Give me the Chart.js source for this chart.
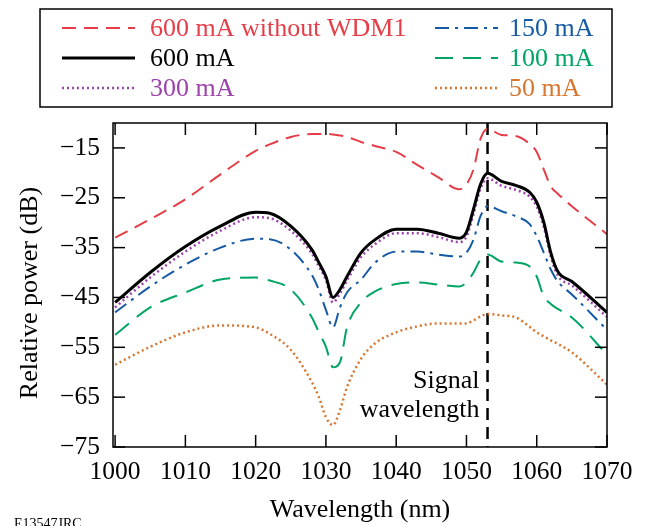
<!DOCTYPE html>
<html>
<head>
<meta charset="utf-8">
<script src="https://cdn.jsdelivr.net/npm/chart.js@4.4.1/dist/chart.umd.min.js"></script>
<style>
  html, body { margin: 0; padding: 0; background: #fff; }
  #myChart { display: block; }
</style>
</head>
<body>
<canvas id="myChart" width="649" height="526"></canvas>
<script>
// wavelength samples (nm) shared by all curves
const wavelengths = [1000, 1005, 1010, 1015, 1020, 1022, 1025, 1028, 1029, 1030, 1031, 1032, 1033, 1035, 1037,
                     1040, 1043, 1046, 1049, 1050, 1051, 1052, 1053, 1055, 1057, 1059, 1060, 1061, 1062, 1063, 1065, 1070];

// relative power (dB) per pump current
const noWdm600 = [-33, -29.3, -25.3, -20.3, -15.6, -14.3, -12.8, -12.2, -12.2, -12.2, -12.3, -12.5, -12.8, -13.8, -14.6,
                  -15.8, -18.4, -20.9, -23.3, -22.3, -19.3, -13.2, -11.2, -12.4, -12.6, -14.2, -15.8, -19.3, -22.7, -24.2, -26.7, -32.3];
const ma600 = [-46, -40, -34.8, -30.7, -27.9, -28.1, -30.7, -35.4, -38, -40.8, -45, -43.4, -40.8, -36, -33.4,
               -31.3, -31.3, -32.1, -33.1, -31.9, -27.3, -22.3, -20.1, -21.7, -22.5, -23.9, -25.9, -29.9, -36, -39.8, -41.8, -48];
const ma300 = [-47, -41, -35.8, -31.6, -28.9, -29.1, -31.6, -36.2, -38.8, -41.5, -46, -44.2, -41.6, -36.9, -34.3,
               -32.1, -32.1, -32.9, -33.9, -32.8, -28.3, -23.2, -21.1, -22.6, -23.4, -24.8, -26.8, -30.8, -36.8, -40.6, -42.6, -48.9];
const ma150 = [-48, -42.8, -38.4, -35, -33.2, -33.3, -35.4, -40.5, -43.5, -47.5, -51, -47, -44, -41.4, -38,
               -35.8, -35.8, -36.4, -36.8, -36, -33.4, -28.7, -26.7, -27.7, -28.7, -30.3, -32.7, -36, -39.4, -41.8, -44.4, -51.5];
const ma100 = [-52.5, -47, -44, -41.4, -41, -41.6, -43.4, -49, -52, -54.9, -59, -58, -51, -46, -43.8,
               -42.3, -42, -42.4, -42.8, -42, -40, -37.4, -36.4, -37.8, -38, -38.8, -40.8, -44.8, -46.3, -47.3, -49, -56.5];
const ma50 = [-58.5, -54.9, -52, -50.6, -51, -52.3, -55.5, -62, -65, -69, -70.6, -67.6, -63, -57.3, -54.2,
              -52, -50.8, -50.2, -50.2, -50.2, -49.6, -48.8, -48.3, -48.6, -49, -50.9, -52, -52.8, -53.6, -54.3, -56, -62.5];

const signalWavelength = 1053;
const xTicks = [1000, 1010, 1020, 1030, 1040, 1050, 1060, 1070];
const yTicks = [-75, -65, -55, -45, -35, -25, -15];

const FONT = "'Liberation Serif', 'DejaVu Serif', serif";

function pts(ys) {
    return wavelengths.map((w, i) => ({ x: w, y: ys[i] }));
}

const series = [
    { label: '600 mA without WDM1', data: noWdm600, color: 'rgb(230, 62, 72)', dash: [14, 8], width: 2 },
    { label: '600 mA', data: ma600, color: '#000000', dash: [], width: 3 },
    { label: '300 mA', data: ma300, color: 'rgb(155, 68, 170)', dash: [2, 3], width: 2.5 },
    { label: '150 mA', data: ma150, color: 'rgb(22, 90, 165)', dash: [14, 6, 3, 6], width: 2 },
    { label: '100 mA', data: ma100, color: 'rgb(0, 165, 100)', dash: [18, 10], width: 2 },
    { label: '50 mA', data: ma50, color: 'rgb(214, 118, 48)', dash: [2, 3], width: 2.5 }
];

const datasets = series.map(s => ({
    label: s.label,
    data: pts(s.data),
    borderColor: s.color,
    borderDash: s.dash,
    borderWidth: s.width,
    pointRadius: 0,
    fill: false,
    cubicInterpolationMode: 'monotone'
}));

// vertical marker at the signal wavelength
datasets.push({
    label: 'signal',
    data: [{ x: signalWavelength, y: -10 }, { x: signalWavelength, y: -75 }],
    borderColor: '#000',
    borderDash: [12, 7],
    borderWidth: 2.5,
    pointRadius: 0,
    fill: false
});

function line(ctx, x1, y1, x2, y2) {
    ctx.beginPath();
    ctx.moveTo(x1, y1);
    ctx.lineTo(x2, y2);
    ctx.stroke();
}

// frame, inward ticks, legend box, axis titles, annotation
const decorations = {
    id: 'decorations',
    afterDraw(chart) {
        const ctx = chart.ctx;
        const a = chart.chartArea;
        const xs = chart.scales.x, ys = chart.scales.y;
        ctx.save();
        ctx.strokeStyle = '#000';
        ctx.lineWidth = 1.5;
        ctx.setLineDash([]);
        ctx.strokeRect(a.left, a.top, a.right - a.left, a.bottom - a.top);

        xTicks.forEach(v => {
            const px = xs.getPixelForValue(v);
            line(ctx, px, a.bottom, px, a.bottom - 12);
            line(ctx, px, a.top, px, a.top + 12);
        });
        yTicks.forEach(v => {
            const py = ys.getPixelForValue(v);
            line(ctx, a.left, py, a.left + 12, py);
            line(ctx, a.right, py, a.right - 12, py);
        });

        // signal label
        ctx.fillStyle = '#000';
        ctx.font = '26px ' + FONT;
        ctx.textAlign = 'right';
        ctx.textBaseline = 'middle';
        const sx = xs.getPixelForValue(signalWavelength) - 8;
        ctx.fillText('Signal', sx, 381);
        ctx.fillText('wavelength', sx, 410);

        // axis titles
        ctx.textAlign = 'center';
        ctx.fillText('Wavelength (nm)', 360, 510);
        ctx.save();
        ctx.translate(30, 293);
        ctx.rotate(-Math.PI / 2);
        ctx.fillText('Relative power (dB)', 0, 0);
        ctx.restore();

        // figure id
        ctx.font = '14px ' + FONT;
        ctx.textAlign = 'left';
        ctx.textBaseline = 'top';
        ctx.fillText('E13547JRC', 14, 517);

        // legend
        ctx.lineWidth = 1.5;
        ctx.strokeRect(40, 9, 572, 98);
        ctx.font = '26px ' + FONT;
        ctx.textBaseline = 'middle';
        const rows = [28, 58, 88];
        const cols = [{ x1: 62, x2: 135, tx: 150 }, { x1: 435, x2: 498, tx: 509 }];
        series.forEach((s, k) => {
            const c = cols[k < 3 ? 0 : 1];
            const y = rows[k % 3];
            ctx.strokeStyle = s.color;
            ctx.lineWidth = s.width;
            ctx.setLineDash(s.dash);
            line(ctx, c.x1, y, c.x2, y);
            ctx.setLineDash([]);
            ctx.fillStyle = s.color;
            ctx.fillText(s.label, c.tx, y + 1);
        });
        ctx.restore();
    }
};

const config = {
    type: 'line',
    data: { datasets: datasets },
    options: {
        responsive: false,
        animation: false,
        devicePixelRatio: 1,
        layout: { padding: { left: 0, top: 123, right: 42, bottom: 0 } },
        plugins: {
            legend: { display: false },
            tooltip: { enabled: false },
            title: { display: false }
        },
        scales: {
            x: {
                type: 'linear',
                min: 999.7,
                max: 1070,
                afterBuildTicks: (scale) => { scale.ticks = xTicks.map(v => ({ value: v })); },
                afterFit: (scale) => { scale.height = 79; },
                grid: { display: false, drawTicks: false },
                border: { display: false },
                ticks: {
                    color: '#000',
                    padding: 10,
                    maxRotation: 0,
                    autoSkip: false,
                    font: { family: FONT, size: 25.5 },
                    callback: (v) => String(v)
                }
            },
            y: {
                type: 'linear',
                min: -75,
                max: -10,
                afterBuildTicks: (scale) => { scale.ticks = yTicks.map(v => ({ value: v })); },
                afterFit: (scale) => { scale.width = 113; },
                grid: { display: false, drawTicks: false },
                border: { display: false },
                ticks: {
                    color: '#000',
                    padding: 13,
                    font: { family: FONT, size: 25.5 },
                    callback: (v) => String(v).replace('-', '\u2212')
                }
            }
        }
    },
    plugins: [decorations]
};

const ctx = document.getElementById('myChart').getContext('2d');
new Chart(ctx, config);
</script>
</body>
</html>
